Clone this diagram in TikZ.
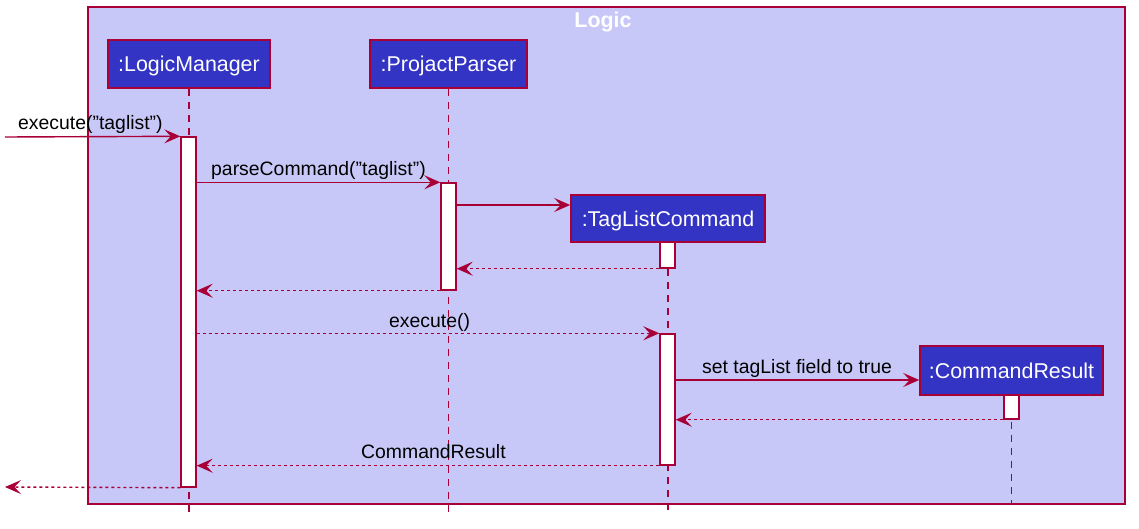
\documentclass[tikz,border=0pt]{standalone}
\usepackage{fontspec}
\setmainfont{Liberation Sans}
\usetikzlibrary{arrows.meta}
\definecolor{bord}{HTML}{A80036}
\definecolor{boxfill}{HTML}{3333C4}
\definecolor{framefill}{HTML}{C8C8F8}
\tikzset{
  part/.style={draw=bord, line width=1.6pt, fill=boxfill, text=white, inner sep=0pt, text depth=0pt, font=\fontsize{21.4}{24}\selectfont},
  act/.style={draw=bord, line width=1.4pt, fill=white, minimum width=15pt, inner sep=0pt},
  lifeline/.style={draw=bord, line width=1.3pt, dash pattern=on 7pt off 6pt},
  msg/.style={draw=bord, line width=1.4pt, -{Stealth[length=16pt,width=14pt,inset=6.5pt]}},
  ret/.style={msg, dash pattern=on 3pt off 3pt},
  lbl/.style={anchor=base west, inner sep=0pt, font=\fontsize{19.4}{22}\selectfont}
}
\begin{document}
\begin{tikzpicture}[x=1pt,y=-1pt]
\useasboundingbox (0,0) rectangle (1139,529);
% frame
\node[draw=bord, line width=1.5pt, fill=framefill, minimum width=1037pt, minimum height=497pt, inner sep=0pt] (frame) at (606.5,255.5) {};
\node[text=white, font=\bfseries\fontsize{21.4}{24}\selectfont, inner sep=0pt] (title) at (603,22) {Logic};
% participants
\node[part, minimum width=162pt, minimum height=48pt] (lm) at (189,64) {:LogicManager};
\node[part, minimum width=157pt, minimum height=48pt] (pp) at (448.5,64) {:ProjactParser};
\node[part, minimum width=194pt, minimum height=47pt] (tc) at (668,218.5) {:TagListCommand};
\node[part, minimum width=183pt, minimum height=49pt] (cr) at (1011.5,370.5) {:CommandResult};
% lifelines
\coordinate (lmEnd) at (189,512);
\coordinate (ppEnd) at (448.5,512);
\coordinate (tcEnd) at (668,512);
\coordinate (crEnd) at (1011.5,504);
\draw[lifeline] (lm.south) -- (lmEnd);
\draw[lifeline] (pp.south) -- (ppEnd);
\draw[lifeline] (tc.south) -- (tcEnd);
\draw[lifeline] (cr.south) -- (crEnd);
% activations
\node[act, minimum height=350pt] (lmA) at (188.5,312) {};
\node[act, minimum height=107pt] (paA) at (448.5,236.5) {};
\node[act, minimum height=26pt] (tc1) at (667.5,255) {};
\node[act, minimum height=131pt] (tc2) at (667.5,399.5) {};
\node[act, minimum height=24pt] (crA) at (1011.5,407) {};
% redraw boxes on top
\node[part, minimum width=194pt, minimum height=47pt] at (tc) {:TagListCommand};
\node[part, minimum width=183pt, minimum height=49pt] at (cr) {:CommandResult};
% messages
\coordinate (in1) at (5,137);
\coordinate (out1) at (5,487);
\draw[msg] (in1) -- (lmA.north west);
\node[lbl] (l1) at (18,130) {execute("taglist")};
\draw[msg] (lmA.east |- paA.north) -- (paA.north west);
\node[lbl] (l2) at (211,176) {parseCommand("taglist")};
\draw[msg] (paA.east |- 0,205) -- (tc.west |- 0,205);
\draw[ret] (tc1.south west) -- (paA.east |- tc1.south);
\draw[ret] (paA.south west) -- (lmA.east |- paA.south);
\draw[ret] (lmA.east |- tc2.north) -- (tc2.north west);
\node[lbl] (l3) at (389,327) {execute()};
\draw[msg] (tc2.east |- 0,380) -- (cr.west |- 0,380);
\node[lbl] (l4) at (702,373) {set tagList field to true};
\draw[ret] (crA.south west) -- (tc2.east |- crA.south);
\draw[ret] (tc2.south west) -- (lmA.east |- tc2.south);
\node[lbl] (l5) at (361,458) {CommandResult};
\draw[ret] (lmA.south west) -- (out1);
\end{tikzpicture}
\end{document}
